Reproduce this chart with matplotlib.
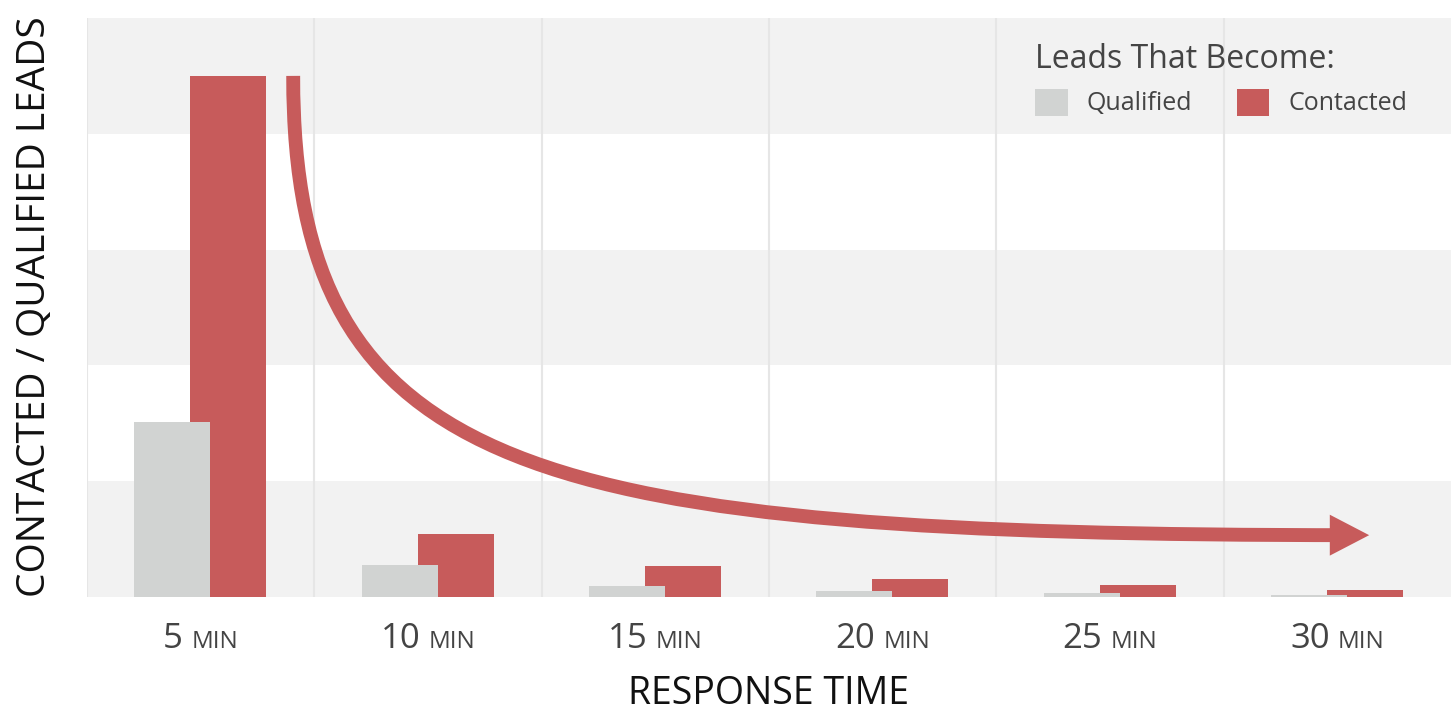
import matplotlib.pyplot as plt
import numpy as np
from matplotlib.patches import Patch, FancyArrowPatch
from matplotlib.path import Path
from matplotlib.offsetbox import TextArea, HPacker, AnnotationBbox

plt.rcParams['font.family'] = ['Open Sans', 'DejaVu Sans']

minutes = ['5', '10', '15', '20', '25', '30']
qualified = [1.51, 0.276, 0.095, 0.05, 0.034, 0.017]
contacted = [4.5, 0.543, 0.267, 0.155, 0.10, 0.06]

RED = '#c75b5b'
GREY = '#d1d3d2'
BAND = '#f2f2f2'
TEXT = '#444444'

fig = plt.figure(figsize=(14.51, 7.12), dpi=100)
ax = fig.add_axes([87 / 1451, 115 / 712, 1 - 87 / 1451, 579 / 712])

x = np.arange(len(minutes))
ax.set_xlim(-0.5, len(minutes) - 0.5)
ax.set_ylim(0, 5)

# alternating background bands
for lo in range(0, 5, 2):
    ax.axhspan(lo, lo + 1, color=BAND, zorder=0, lw=0)
for xv in np.arange(-0.5, len(minutes) - 0.5, 1.0):
    ax.axvline(xv, color='#e6e6e6', lw=1.5, zorder=1)

w = 0.334
ax.bar(x + 0.122, contacted, width=w, color=RED, zorder=2)
ax.bar(x - 0.125, qualified, width=w, color=GREY, zorder=3)

# curved arrow
verts = [(0.407, 4.5), (0.407, 1.05), (1.45, 0.534), (5.14, 0.534)]
codes = [Path.MOVETO, Path.CURVE4, Path.CURVE4, Path.CURVE4]
arrow = FancyArrowPatch(path=Path(verts, codes),
                        arrowstyle='-|>,head_length=12.5,head_width=6.5',
                        mutation_scale=1, color=RED, lw=10, zorder=4,
                        capstyle='butt', joinstyle='miter')
ax.add_patch(arrow)

for s in ax.spines.values():
    s.set_visible(False)
ax.set_xticks([])
ax.set_yticks([])

# tick labels: big number + small "MIN"
for i, m in enumerate(minutes):
    num = TextArea(m, textprops=dict(fontsize=25, color=TEXT))
    unit = TextArea('MIN', textprops=dict(fontsize=17.5, color=TEXT))
    box = HPacker(children=[num, unit], align='baseline', pad=0, sep=6)
    ab = AnnotationBbox(box, (i, 0), xybox=(0, -18), xycoords='data',
                        boxcoords='offset points', box_alignment=(0.5, 1),
                        frameon=False, annotation_clip=False)
    ax.add_artist(ab)

fig.text(35 / 1451, 1 - 307 / 712, 'CONTACTED / QUALIFIED LEADS', rotation=90,
         fontsize=28, color='#111111', ha='center', va='center')
fig.text(769 / 1451, 1 - 694 / 712, 'RESPONSE TIME', fontsize=27,
         color='#111111', ha='center', va='center')

handles = [Patch(facecolor=GREY, edgecolor='none', label='Qualified'),
           Patch(facecolor=RED, edgecolor='none', label='Contacted')]
leg = fig.legend(handles=handles, title='Leads That Become:', ncol=2,
                 loc='upper left', bbox_to_anchor=(1035 / 1451, 1 - 43 / 712),
                 frameon=False, fontsize=18, title_fontsize=23,
                 handlelength=1.3, handleheight=1.3, handletextpad=0.75,
                 columnspacing=1.8, alignment='left', borderpad=0,
                 borderaxespad=0)
for t in leg.get_texts():
    t.set_color(TEXT)
leg.get_title().set_color(TEXT)

fig.savefig('out.png', dpi=100)
